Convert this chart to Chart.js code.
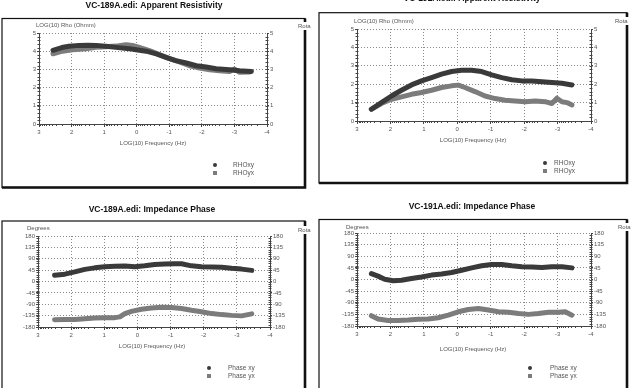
<!DOCTYPE html>
<html>
<head>
<meta charset="utf-8">
<script src="https://cdn.jsdelivr.net/npm/chart.js@4.4.0/dist/chart.umd.min.js"></script>
<style>
  body { margin: 0; background: #fff; width: 634px; height: 388px; overflow: hidden; position: relative; }
  canvas { position: absolute; }
</style>
</head>
<body>
<canvas id="rho189" width="317" height="194" style="left:0;top:0"></canvas>
<canvas id="rho191" width="317" height="194" style="left:317px;top:0"></canvas>
<canvas id="pha189" width="317" height="194" style="left:0;top:194px"></canvas>
<canvas id="pha191" width="317" height="194" style="left:317px;top:194px"></canvas>
<script>
// LOG(10) frequency positions and values

// VC-189A apparent resistivity
const f189RhoXY = [2.57, 2.3, 2.08, 1.77, 1.5, 1.25, 0.95, 0.64, 0.23, 0.02, -0.29, -0.6, -0.9, -1.2, -1.52, -1.83, -2.13, -2.44, -2.85, -3.16, -3.52]
const rho189XY = [4.05, 4.2, 4.27, 4.32, 4.33, 4.32, 4.27, 4.21, 4.14, 4.08, 4.0, 3.85, 3.66, 3.48, 3.35, 3.2, 3.13, 3.04, 2.98, 2.93, 2.89]
const f189RhoYX = [2.57, 2.28, 1.97, 1.56, 1.25, 0.95, 0.64, 0.33, 0.13, -0.08, -0.39, -0.7, -1.0, -1.31, -1.62, -1.93, -2.24, -2.54, -2.85, -3.0, -3.16, -3.47]
const rho189YX = [3.86, 4.0, 4.08, 4.14, 4.21, 4.25, 4.28, 4.36, 4.32, 4.21, 4.03, 3.81, 3.59, 3.41, 3.2, 3.08, 2.98, 2.93, 2.89, 3.02, 2.84, 2.86]

// VC-191A apparent resistivity
const f191RhoXY = [2.57, 2.27, 1.97, 1.67, 1.37, 1.07, 0.77, 0.47, 0.17, -0.13, -0.43, -0.73, -1.03, -1.33, -1.63, -1.93, -2.23, -2.53, -2.83, -3.13, -3.43]
const rho191XY = [0.64, 1.0, 1.36, 1.67, 1.96, 2.18, 2.36, 2.55, 2.69, 2.76, 2.76, 2.69, 2.51, 2.36, 2.24, 2.18, 2.18, 2.13, 2.09, 2.05, 1.96]
const f191RhoYX = [2.57, 2.27, 1.97, 1.67, 1.37, 1.07, 0.77, 0.47, 0.17, -0.03, -0.23, -0.53, -0.83, -1.13, -1.43, -1.73, -2.03, -2.33, -2.63, -2.83, -2.98, -3.13, -3.28, -3.43]
const rho191YX = [0.64, 0.95, 1.18, 1.31, 1.45, 1.55, 1.67, 1.82, 1.91, 1.95, 1.82, 1.6, 1.36, 1.22, 1.13, 1.09, 1.05, 1.09, 1.05, 0.95, 1.24, 1.05, 1.0, 0.87]

// VC-189A impedance phase
const f189PhaXY = [2.5, 2.19, 1.89, 1.59, 1.29, 0.99, 0.68, 0.38, 0.08, -0.22, -0.52, -0.83, -1.13, -1.33, -1.63, -1.93, -2.24, -2.54, -2.84, -3.14, -3.45]
const pha189XY = [25, 29, 38, 48, 54, 58, 60, 61, 58, 62, 67, 69, 70, 70, 62, 58, 57, 56, 52, 49, 44]
const f189PhaYX = [2.5, 2.19, 1.89, 1.59, 1.29, 0.99, 0.68, 0.53, 0.38, 0.18, -0.12, -0.42, -0.73, -1.03, -1.33, -1.63, -1.93, -2.24, -2.54, -2.84, -3.14, -3.45]
const pha189YX = [-151, -150, -150, -147, -144, -143, -143, -140, -127, -118, -110, -105, -102, -103, -107, -114, -120, -127, -131, -134, -136, -128]

// VC-191A impedance phase
const f191PhaXY = [2.57, 2.37, 2.17, 1.92, 1.67, 1.37, 1.07, 0.77, 0.47, 0.17, -0.13, -0.43, -0.73, -1.03, -1.33, -1.63, -1.93, -2.23, -2.53, -2.83, -3.13, -3.43]
const pha191XY = [23, 13, 1, -5, -3, 4, 10, 17, 21, 27, 36, 45, 53, 58, 58, 53, 49, 48, 46, 49, 49, 45]
const f191PhaYX = [2.57, 2.37, 2.07, 1.77, 1.47, 1.17, 0.87, 0.57, 0.27, -0.03, -0.33, -0.63, -0.93, -1.23, -1.53, -1.83, -2.13, -2.43, -2.73, -3.03, -3.23, -3.43]
const pha191YX = [-140, -153, -159, -159, -157, -154, -153, -148, -138, -125, -116, -112, -118, -125, -127, -132, -135, -132, -127, -127, -125, -138]

const rhoLabels = ['RHOxy', 'RHOyx']
const phaLabels = ['Phase xy', 'Phase yx']

const W = 317, H = 194
const AXW = 22, AXH = 14
const darkC = '#3a3a3a', greyC = '#7c7c7c', textC = '#555'
Chart.defaults.font.family = "'Liberation Sans', Arial, sans-serif"

const pts = (xs, ys) => xs.map((v, i) => ({ x: v, y: ys[i] }))

// frame, titles, legend and minor ticks
const panelDecor = {
  id: 'panelDecor',
  beforeDraw (chart, args, o) {
    const ctx = chart.ctx
    const f = o.frame
    ctx.save()
    ctx.fillStyle = '#fff'
    ctx.fillRect(0, 0, chart.width, chart.height)
    ctx.strokeStyle = '#111'
    ctx.lineWidth = 1.2
    ctx.strokeRect(f.l, f.t, f.r - f.l, f.b - f.t)
    ctx.lineWidth = 2.6
    ctx.beginPath()
    ctx.moveTo(f.r, f.t)
    ctx.lineTo(f.r, f.b)
    ctx.lineTo(f.l, f.b)
    ctx.stroke()
    ctx.restore()
  },
  afterDraw (chart, args, o) {
    const ctx = chart.ctx
    const { x, y } = chart.scales
    const a = chart.chartArea
    ctx.save()
    // minor ticks
    ctx.strokeStyle = '#444'
    ctx.lineWidth = 1
    ctx.beginPath()
    for (let n = -4; n < 3; n++) {
      for (let k = 2; k < 10; k++) {
        const px = Math.round(x.getPixelForValue(n + Math.log10(k))) + 0.5
        ctx.moveTo(px, a.bottom)
        ctx.lineTo(px, a.bottom + 2)
      }
    }
    for (let v = y.min; v < y.max; v += o.minor) {
      const py = Math.round(y.getPixelForValue(v)) + 0.5
      ctx.moveTo(a.left - 1.5, py)
      ctx.lineTo(a.left + 1.5, py)
      ctx.moveTo(a.right - 1.5, py)
      ctx.lineTo(a.right + 1.5, py)
    }
    ctx.stroke()

    // title
    ctx.fillStyle = '#111'
    ctx.font = "bold 8.5px 'Liberation Sans', Arial, sans-serif"
    ctx.textAlign = 'center'
    ctx.textBaseline = 'middle'
    ctx.fillText(o.title, o.titleX, o.titleY)

    // axis titles
    ctx.fillStyle = textC
    ctx.font = "6px 'Liberation Sans', Arial, sans-serif"
    ctx.fillText(o.xTitle, o.xTitleX, o.xTitleY)
    ctx.textAlign = 'left'
    ctx.fillText(o.yTitle, o.yTitleX, o.yTitleY)

    // Rota label over the frame edge
    ctx.fillStyle = '#fff'
    ctx.fillRect(o.rotaX - 1, o.rotaY - 4, 17, 8)
    ctx.fillStyle = textC
    ctx.fillText('Rota', o.rotaX, o.rotaY)

    // legend
    const ds = chart.data.datasets
    ds.forEach((d, i) => {
      const ly = o.legY + i * 8
      ctx.fillStyle = d.borderColor
      if (i === 0) {
        ctx.beginPath()
        ctx.arc(o.legX, ly, 2, 0, Math.PI * 2)
        ctx.fill()
      } else {
        ctx.fillRect(o.legX - 2, ly - 2, 4, 4)
      }
      ctx.fillStyle = textC
      ctx.font = "6.5px 'Liberation Sans', Arial, sans-serif"
      ctx.fillText(d.label, o.legTextX, ly)
    })
    ctx.restore()
  }
}

function fixAxis (size, vertical) {
  return s => {
    if (vertical) s.width = size
    else s.height = size
    s.paddingLeft = 0
    s.paddingRight = 0
    s.paddingTop = 0
    s.paddingBottom = 0
  }
}

function yAxis (pos, p) {
  return {
    position: pos,
    min: p.yMin,
    max: p.yMax,
    afterFit: fixAxis(AXW, true),
    ticks: { stepSize: p.yStep, font: { size: 6 }, color: textC, padding: 1 },
    grid: {
      drawOnChartArea: pos === 'left',
      color: '#8a8a8a',
      tickColor: '#444',
      tickLength: 2,
      tickBorderDash: []
    },
    border: { color: '#444', width: 1, dash: [1, 2] }
  }
}

function series (label, data, color) {
  return {
    label,
    data,
    borderColor: color,
    backgroundColor: color,
    showLine: true,
    borderWidth: 5,
    pointStyle: 'rect',
    pointRadius: 1.5,
    pointBorderWidth: 0,
    borderJoinStyle: 'round',
    borderCapStyle: 'round'
  }
}

function build (id, p) {
  new Chart(document.getElementById(id), {
    type: 'scatter',
    data: {
      datasets: [
        series(p.labels[0], pts(p.fxy, p.vxy), darkC),
        series(p.labels[1], pts(p.fyx, p.vyx), greyC)
      ]
    },
    options: {
      responsive: false,
      animation: false,
      layout: {
        padding: {
          left: p.plot.l - AXW,
          right: W - p.plot.r - AXW,
          top: p.plot.t,
          bottom: H - p.plot.b - AXH
        }
      },
      scales: {
        x: {
          type: 'linear',
          reverse: true,
          min: -4,
          max: 3,
          afterFit: fixAxis(AXH, false),
          ticks: { stepSize: 1, font: { size: 6 }, color: textC, padding: 2, maxRotation: 0, autoSkip: false },
          grid: { color: '#8a8a8a', tickColor: '#444', tickLength: 3, tickBorderDash: [] },
          border: { color: '#444', width: 1, dash: [1, 2] }
        },
        y: yAxis('left', p),
        y2: yAxis('right', p)
      },
      plugins: {
        legend: { display: false },
        tooltip: { enabled: false },
        panelDecor: p.decor
      }
    },
    plugins: [panelDecor]
  })
}

build('rho189', {
  fxy: f189RhoXY, vxy: rho189XY, fyx: f189RhoYX, vyx: rho189YX, labels: rhoLabels,
  yMin: 0, yMax: 5, yStep: 1,
  plot: { l: 39, r: 267, t: 33, b: 124 },
  decor: {
    frame: { l: 2, t: 18.5, r: 305, b: 187.5 }, minor: 0.2,
    title: 'VC-189A.edi: Apparent Resistivity', titleX: 154, titleY: 6,
    xTitle: 'LOG(10) Frequency (Hz)', xTitleX: 153, xTitleY: 143,
    yTitle: 'LOG(10) Rho (Ohmm)', yTitleX: 36, yTitleY: 25,
    rotaX: 298, rotaY: 26, legX: 215, legY: 165, legTextX: 233
  }
})

build('rho191', {
  fxy: f191RhoXY, vxy: rho191XY, fyx: f191RhoYX, vyx: rho191YX, labels: rhoLabels,
  yMin: 0, yMax: 5, yStep: 1,
  plot: { l: 40, r: 274, t: 29, b: 121 },
  decor: {
    frame: { l: 2, t: 12.7, r: 310, b: 183 }, minor: 0.2,
    title: 'VC-191A.edi: Apparent Resistivity', titleX: 155, titleY: -1,
    xTitle: 'LOG(10) Frequency (Hz)', xTitleX: 156, xTitleY: 140,
    yTitle: 'LOG(10) Rho (Ohmm)', yTitleX: 37, yTitleY: 21,
    rotaX: 298, rotaY: 21, legX: 228, legY: 163, legTextX: 237
  }
})

build('pha189', {
  fxy: f189PhaXY, vxy: pha189XY, fyx: f189PhaYX, vyx: pha189YX, labels: phaLabels,
  yMin: -180, yMax: 180, yStep: 45,
  plot: { l: 38, r: 270, t: 42, b: 133 },
  decor: {
    frame: { l: 2, t: 27, r: 305, b: 210 }, minor: 9,
    title: 'VC-189A.edi: Impedance Phase', titleX: 152, titleY: 16,
    xTitle: 'LOG(10) Frequency (Hz)', xTitleX: 152, xTitleY: 152,
    yTitle: 'Degrees', yTitleX: 27, yTitleY: 34,
    rotaX: 298, rotaY: 36, legX: 209, legY: 174, legTextX: 228
  }
})

build('pha191', {
  fxy: f191PhaXY, vxy: pha191XY, fyx: f191PhaYX, vyx: pha191YX, labels: phaLabels,
  yMin: -180, yMax: 180, yStep: 45,
  plot: { l: 40, r: 274, t: 39, b: 132 },
  decor: {
    frame: { l: 2, t: 25.5, r: 310, b: 210 }, minor: 9,
    title: 'VC-191A.edi: Impedance Phase', titleX: 155, titleY: 13,
    xTitle: 'LOG(10) Frequency (Hz)', xTitleX: 156, xTitleY: 155,
    yTitle: 'Degrees', yTitleX: 29, yTitleY: 33,
    rotaX: 301, rotaY: 33, legX: 213, legY: 174, legTextX: 233
  }
})
</script>
</body>
</html>
